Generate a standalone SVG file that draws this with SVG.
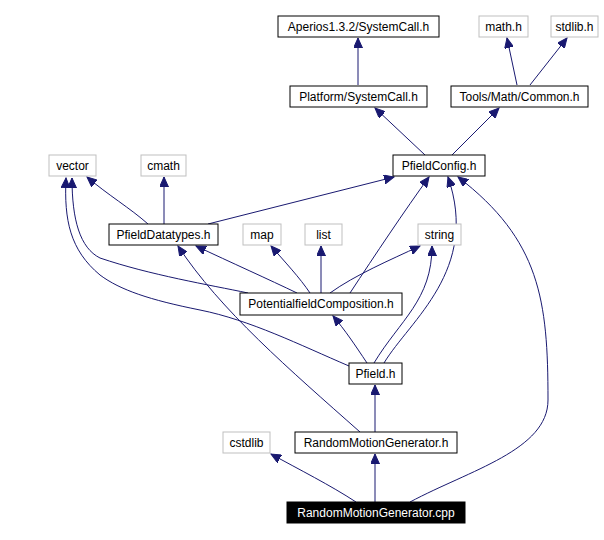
<svg xmlns="http://www.w3.org/2000/svg" width="604" height="540" viewBox="0 0 604 540">
<style>
.n rect{fill:#fff;stroke:#000;stroke-width:1}
.g rect{fill:#fff;stroke:#bfbfbf;stroke-width:1}
text{font-family:"Liberation Sans",Arial,sans-serif;font-size:12px;text-anchor:middle}
#edges path{fill:none;stroke:#191970;stroke-width:1;marker-end:url(#a)}
</style>
<defs><marker id="a" markerWidth="11" markerHeight="9" refX="10" refY="4.5" orient="auto" markerUnits="userSpaceOnUse"><path d="M0,0 L10,4.5 L0,9 Z" fill="#191970" stroke="#191970"/></marker></defs>
<rect width="604" height="540" fill="#fff"/>
<g id="edges">
<path d="M358,85 L358,38"/>
<path d="M517,85 L507,38"/>
<path d="M530,85 L567,38"/>
<path d="M425,155 L375,108"/>
<path d="M452,155 L499,108"/>
<path d="M148,224 C130,208 108,195 87,177"/>
<path d="M164,224 L164,177"/>
<path d="M208,224 L394,177"/>
<path d="M350,293 C375,255 405,210 429,177"/>
<path d="M384,363 C410,320 480,270 448,177"/>
<path d="M410,502 C470,470 548,450 548,400 C548,300 540,240 458,177"/>
<path d="M360,432 C290,370 220,310 178,246"/>
<path d="M297,293 C270,280 230,262 196,246"/>
<path d="M310,293 C300,278 285,262 271,246"/>
<path d="M321,293 L321,246"/>
<path d="M330,293 C355,275 390,260 420,246"/>
<path d="M374,363 C400,320 432,300 432,246"/>
<path d="M248,293 C210,285 150,275 100,258 C80,248 72,220 72,178"/>
<path d="M349,366 C300,345 250,320 200,310 C150,300 120,290 100,275 C70,250 64,220 66,178"/>
<path d="M367,363 C355,345 345,330 333,316"/>
<path d="M375,432 L375,385"/>
<path d="M356,502 C330,485 300,470 271,454"/>
<path d="M375,502 L375,454"/>
</g>
<g id="aperios" class="n"><rect x="278" y="16" width="161" height="21"/><text x="358.5" y="31">Aperios1.3.2/SystemCall.h</text></g>
<g id="math" class="g"><rect x="479" y="16" width="49" height="21"/><text x="503.5" y="31">math.h</text></g>
<g id="stdlib" class="g"><rect x="551" y="16" width="47" height="21"/><text x="574.5" y="31">stdlib.h</text></g>
<g id="platform" class="n"><rect x="290" y="86" width="137" height="21"/><text x="358.5" y="101">Platform/SystemCall.h</text></g>
<g id="common" class="n"><rect x="451" y="86" width="137" height="21"/><text x="519.5" y="101">Tools/Math/Common.h</text></g>
<g id="vector" class="g"><rect x="49" y="155" width="47" height="21"/><text x="72.5" y="170">vector</text></g>
<g id="cmath" class="g"><rect x="141" y="155" width="45" height="21"/><text x="163.5" y="170">cmath</text></g>
<g id="pfieldconfig" class="n"><rect x="393" y="155" width="92" height="21"/><text x="439" y="170">PfieldConfig.h</text></g>
<g id="datatypes" class="n"><rect x="109" y="224" width="109" height="21"/><text x="163.5" y="239">PfieldDatatypes.h</text></g>
<g id="map" class="g"><rect x="243" y="224" width="38" height="21"/><text x="262" y="239">map</text></g>
<g id="list" class="g"><rect x="305" y="224" width="37" height="21"/><text x="323.5" y="239">list</text></g>
<g id="string" class="g"><rect x="418" y="224" width="43" height="21"/><text x="439.5" y="239">string</text></g>
<g id="composition" class="n"><rect x="240" y="293" width="162" height="22"/><text x="321" y="308">PotentialfieldComposition.h</text></g>
<g id="pfield" class="n"><rect x="349" y="363" width="53" height="21"/><text x="375.5" y="378">Pfield.h</text></g>
<g id="cstdlib" class="g"><rect x="223" y="432" width="47" height="21"/><text x="246.5" y="447">cstdlib</text></g>
<g id="rmgh" class="n"><rect x="295" y="432" width="162" height="21"/><text x="376" y="447">RandomMotionGenerator.h</text></g>
<g id="rmgcpp"><rect x="287" y="502" width="178" height="21" fill="#000" stroke="#000"/><text x="376" y="517" fill="#fff">RandomMotionGenerator.cpp</text></g>
</svg>
